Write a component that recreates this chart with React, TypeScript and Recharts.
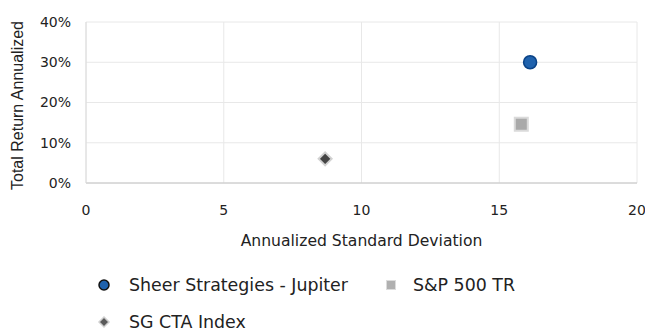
import React from "react";
import {
  ScatterChart,
  Scatter,
  XAxis,
  YAxis,
  CartesianGrid,
  Legend,
} from "recharts";

const seriesNames = ["Sheer Strategies - Jupiter", "S&P 500 TR", "SG CTA Index"];
const stdDev = [16.12, 15.8, 8.68];
const annReturn = [0.3, 0.146, 0.06];
const xTicks = [0, 5, 10, 15, 20];
const yTicks = [0, 0.1, 0.2, 0.3, 0.4];
const yTitle = "Total Return Annualized";
const xTitle = "Annualized Standard Deviation";

const FONT = "Verdana, 'DejaVu Sans', sans-serif";
const TEXT = "#222";

const CircleDot = (p: any) => (
  <circle cx={p.cx} cy={p.cy} r={6.5} fill="#1f62ad" stroke="#0a4387" strokeWidth={1.5} />
);
const SquareDot = (p: any) => (
  <rect x={p.cx - 6.5} y={p.cy - 6.5} width={13} height={13} fill="#a9a9a9" stroke="#dadada" strokeWidth={2} />
);
const DiamondDot = (p: any) => (
  <polygon
    points={`${p.cx},${p.cy - 6.5} ${p.cx + 6.5},${p.cy} ${p.cx},${p.cy + 6.5} ${p.cx - 6.5},${p.cy}`}
    fill="#454545"
    stroke="#d2d2d2"
    strokeWidth={2}
  />
);

const shapes = [CircleDot, SquareDot, DiamondDot];

// rotated y-axis title, drawn with an Arial-like face as in the original
const YTitle = (props: any) => {
  const vb = props.viewBox || { x: 0, y: 0, width: 0, height: 0 };
  const x = vb.x + 17;
  const y = vb.y + vb.height / 2 + 3;
  return (
    <text
      x={x}
      y={y}
      transform={`rotate(-90, ${x}, ${y})`}
      textAnchor="middle"
      dominantBaseline="central"
      fill={TEXT}
      fontSize={16}
      style={{ fontFamily: "'Liberation Sans', Arial, sans-serif" }}
    >
      {yTitle}
    </text>
  );
};

const LegendIcon = ({ i }: { i: number }) => (
  <svg width={14} height={14} style={{ display: "block" }}>
    {i === 0 && <circle cx={7} cy={7} r={5} fill="#1f62ad" stroke="#111" strokeWidth={1.5} />}
    {i === 1 && <rect x={2.5} y={2.5} width={9} height={9} fill="#b0b0b0" stroke="#dcdcdc" strokeWidth={1} />}
    {i === 2 && (
      <polygon points="7,2 12,7 7,12 2,7" fill="#5a5a5a" stroke="#d0d0d0" strokeWidth={1.5} />
    )}
  </svg>
);

// legend item positions (left edge of icon, row)
const legendPos = [
  { left: 97, top: 6 },
  { left: 384, top: 6 },
  { left: 97, top: 43 },
];

const renderLegend = () => (
  <div style={{ position: "relative", width: 645, height: 70, fontFamily: FONT, fontSize: 17.4, color: TEXT }}>
    {seriesNames.map((name, i) => (
      <div
        key={name}
        style={{
          position: "absolute",
          left: legendPos[i].left,
          top: legendPos[i].top,
          height: 22,
          display: "flex",
          alignItems: "center",
          whiteSpace: "nowrap",
        }}
      >
        <LegendIcon i={i} />
        <span style={{ marginLeft: i === 1 ? 15 : 18 }}>{name}</span>
      </div>
    ))}
  </div>
);

export default function App() {
  return (
    <div style={{ position: "absolute", left: 0, top: 0 }}>
      <ScatterChart
        width={645}
        height={331}
        margin={{ top: 22, right: 8, bottom: 12, left: 0 }}
        style={{ fontFamily: FONT }}
      >
        <CartesianGrid stroke="#e8e8e8" />
        <XAxis
          type="number"
          dataKey="x"
          domain={[0, 20]}
          ticks={xTicks}
          tickLine={false}
          axisLine={{ stroke: "#c4c4c4" }}
          tick={{ fill: TEXT, fontSize: 14 }}
          tickMargin={16}
          height={66}
          label={{
            value: xTitle,
            position: "insideBottom",
            offset: 3,
            fill: TEXT,
            fontSize: 15.6,
          }}
        />
        <YAxis
          type="number"
          dataKey="y"
          domain={[0, 0.4]}
          ticks={yTicks}
          tickFormatter={(v: number) => `${Math.round(v * 100)}%`}
          tickLine={false}
          axisLine={{ stroke: "#dcdcdc" }}
          tick={{ fill: TEXT, fontSize: 14 }}
          tickMargin={9}
          width={86}
          label={{ value: yTitle, content: YTitle }}
        />
        <Legend
          verticalAlign="bottom"
          content={renderLegend}
          wrapperStyle={{ top: 268, left: 0, bottom: undefined, width: 645, height: 70 }}
        />
        {seriesNames.map((name, i) => (
          <Scatter
            key={name}
            name={name}
            data={[{ x: stdDev[i], y: annReturn[i] }]}
            shape={shapes[i]}
            isAnimationActive={false}
          />
        ))}
      </ScatterChart>
    </div>
  );
}
